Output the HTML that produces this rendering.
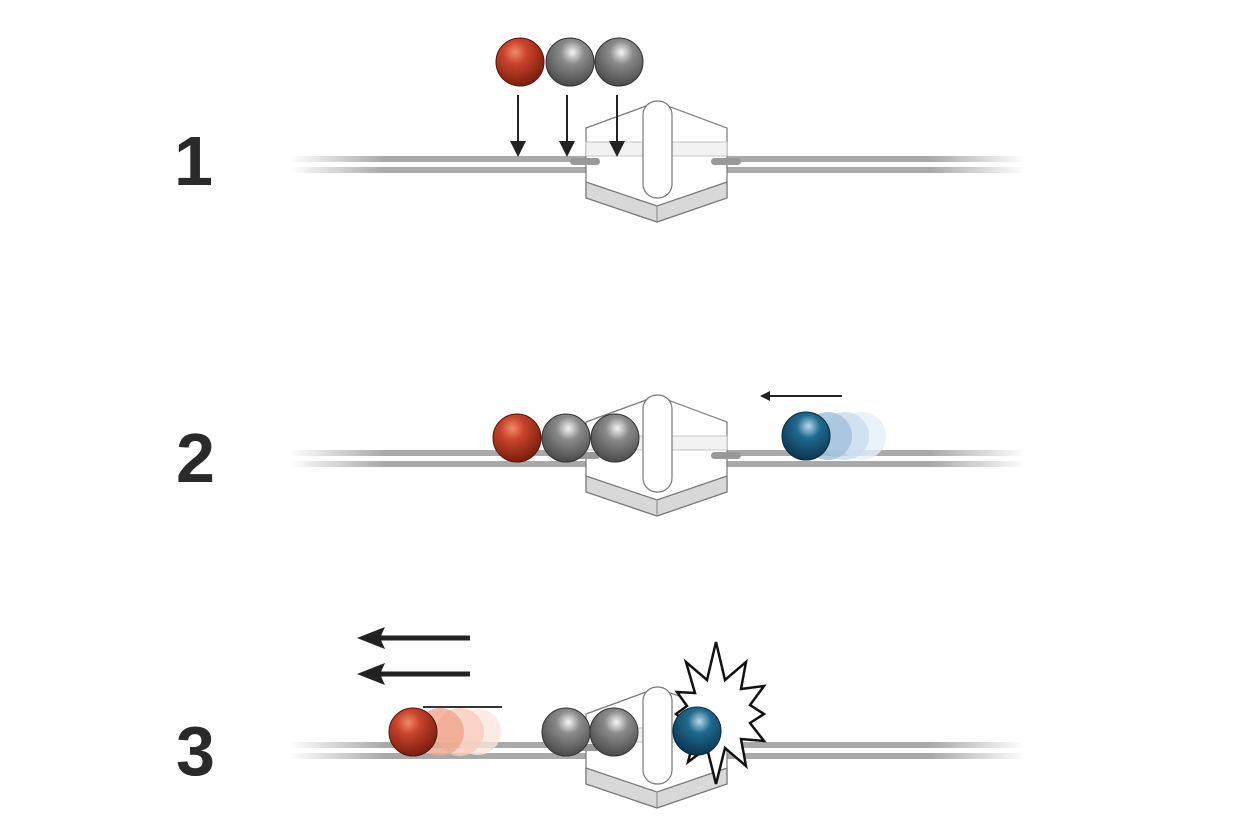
<!DOCTYPE html>
<html><head><meta charset="utf-8"><style>
html,body{margin:0;padding:0;background:#fff;}
svg{display:block;}
</style></head><body>
<svg width="1248" height="831" viewBox="0 0 1248 831" xmlns="http://www.w3.org/2000/svg">
<defs>
<linearGradient id="fadeL" x1="0" x2="1"><stop offset="0" stop-color="#fff" stop-opacity="1"/><stop offset="1" stop-color="#fff" stop-opacity="0"/></linearGradient>
<linearGradient id="fadeR" x1="1" x2="0"><stop offset="0" stop-color="#fff" stop-opacity="1"/><stop offset="1" stop-color="#fff" stop-opacity="0"/></linearGradient>
<g id="track">
  <rect x="290" y="-8" width="735" height="6" fill="#a9a9a9"/>
  <rect x="290" y="-2" width="735" height="4" fill="#fff"/>
  <rect x="290" y="3" width="735" height="6" fill="#a9a9a9"/>
  <rect x="290" y="-10" width="95" height="22" fill="url(#fadeL)"/>
  <rect x="930" y="-10" width="95" height="22" fill="url(#fadeR)"/>
</g>
<g id="block">
  <path d="M586,-36 L657,-62 L727,-36 L727,18 L727,34 L657,58 L586,34 Z" fill="#fff" stroke="#777" stroke-width="1.2"/>
  <path d="M586,18 L657,42 L727,18 L727,34 L657,58 L586,34 Z" fill="#d8d8d8" stroke="#777" stroke-width="1.2"/>
  <line x1="657" y1="42" x2="657" y2="58" stroke="#888"/>
  <rect x="586" y="-22" width="141" height="14" fill="#f2f2f2" stroke="#bbb" stroke-width="0.8"/>
  <rect x="643" y="-63" width="29" height="97" rx="14" fill="#fff" stroke="#777" stroke-width="1.2"/>
  <rect x="570" y="-6" width="30" height="7" rx="3.5" fill="#999"/>
  <rect x="711" y="-6" width="30" height="7" rx="3.5" fill="#999"/>
</g>
<radialGradient id="red" cx="0.4" cy="0.3" r="0.7"><stop offset="0" stop-color="#f08a68"/><stop offset="0.35" stop-color="#c8442a"/><stop offset="1" stop-color="#7a1e10"/></radialGradient>
<radialGradient id="grey" cx="0.55" cy="0.3" r="0.7"><stop offset="0" stop-color="#f4f4f4"/><stop offset="0.35" stop-color="#8a8a8a"/><stop offset="1" stop-color="#4a4a4a"/></radialGradient>
<radialGradient id="blue" cx="0.55" cy="0.3" r="0.7"><stop offset="0" stop-color="#b8d8ec"/><stop offset="0.35" stop-color="#1e6a8e"/><stop offset="1" stop-color="#0c3550"/></radialGradient>
<marker id="ah" markerWidth="8" markerHeight="8" refX="7" refY="4" orient="auto"><path d="M0,0 L8,4 L0,8 Z" fill="#222"/></marker>
<marker id="ahb" markerWidth="5" markerHeight="5" refX="4" refY="2.5" orient="auto"><path d="M0,0 L5,2.5 L0,5 Z" fill="#222"/></marker>
</defs>

<g font-family="Liberation Sans, sans-serif" font-weight="bold" font-size="70" fill="#2a2a2a">
<text x="174" y="185">1</text>
<text x="176" y="482">2</text>
<text x="176" y="775">3</text>
</g>

<!-- panel 1 -->
<use href="#track" transform="translate(0,164)"/>
<use href="#block" transform="translate(0,164)"/>
<circle cx="520" cy="62" r="24" fill="url(#red)" stroke="#5a1408"/>
<circle cx="570" cy="62" r="24" fill="url(#grey)" stroke="#333"/>
<circle cx="619" cy="62" r="24" fill="url(#grey)" stroke="#333"/>
<g stroke="#222" stroke-width="2">
<line x1="518" y1="95" x2="518" y2="155" marker-end="url(#ah)"/>
<line x1="567" y1="95" x2="567" y2="155" marker-end="url(#ah)"/>
<line x1="617" y1="95" x2="617" y2="155" marker-end="url(#ah)"/>
</g>

<!-- panel 2 -->
<use href="#track" transform="translate(0,458)"/>
<use href="#block" transform="translate(0,458)"/>
<circle cx="517" cy="438" r="24" fill="url(#red)" stroke="#5a1408"/>
<circle cx="566" cy="438" r="24" fill="url(#grey)" stroke="#333"/>
<circle cx="615" cy="438" r="24" fill="url(#grey)" stroke="#333"/>
<circle cx="862" cy="436" r="24" fill="#e6eff7" opacity="0.8"/>
<circle cx="845" cy="436" r="24" fill="#c9dcec" opacity="0.8"/>
<circle cx="828" cy="436" r="24" fill="#9fc0dc" opacity="0.8"/>
<circle cx="806" cy="436" r="24" fill="url(#blue)" stroke="#08283c"/>
<line x1="842" y1="396" x2="762" y2="396" stroke="#222" stroke-width="2" marker-end="url(#ahb)"/>

<!-- panel 3 -->
<use href="#track" transform="translate(0,750)"/>
<use href="#block" transform="translate(0,750)"/>
<circle cx="478" cy="732" r="23" fill="#fbe6de" opacity="0.8"/>
<circle cx="460" cy="732" r="24" fill="#f6cdbd" opacity="0.8"/>
<circle cx="440" cy="732" r="24" fill="#eda68c" opacity="0.8"/>
<circle cx="413" cy="732" r="24" fill="url(#red)" stroke="#5a1408"/>
<line x1="423" y1="707" x2="502" y2="707" stroke="#333" stroke-width="2"/>
<circle cx="566" cy="732" r="24" fill="url(#grey)" stroke="#333"/>
<circle cx="614" cy="732" r="24" fill="url(#grey)" stroke="#333"/>
<polygon points="716,642 725,680 746,662 741,689 764,686 750,705 764,714 750,723 764,741 741,739 746,766 725,748 716,784 707,748 688,762 695,735 681,734 687,722 676,714 687,706 677,692 695,693 686,662 707,680" fill="#fff" stroke="#111" stroke-width="2.5" stroke-linejoin="miter"/>
<circle cx="697" cy="731" r="24" fill="url(#blue)" stroke="#08283c"/>
<g stroke="#222" stroke-width="5">
<line x1="470" y1="638" x2="375" y2="638"/>
<line x1="470" y1="674" x2="375" y2="674"/>
</g>
<polygon points="357,638 385,627 380,638 385,649" fill="#222"/>
<polygon points="357,674 385,663 380,674 385,685" fill="#222"/>
</svg>
</body></html>
